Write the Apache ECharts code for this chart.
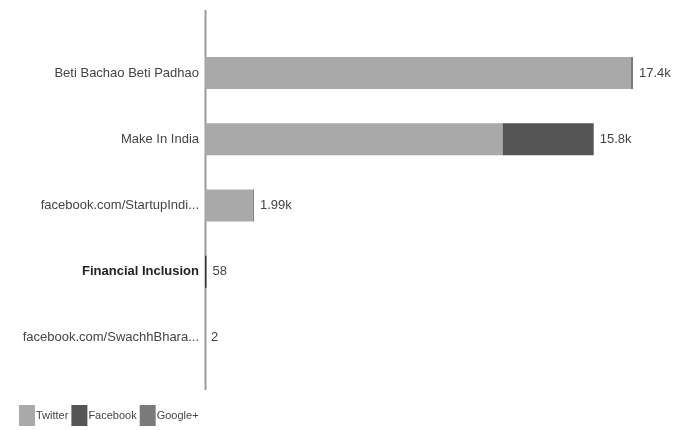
<!DOCTYPE html>
<html>
<head>
<meta charset="utf-8">
<script src="https://cdn.jsdelivr.net/npm/echarts@6/dist/echarts.min.js"></script>
<style>html,body{margin:0;padding:0;background:#fff}#c{width:699px;height:430px}</style>
</head>
<body>
<div id="c"></div>
<script>
var categories = ["Beti Bachao Beti Padhao", "Make In India", "facebook.com/StartupIndi...", "Financial Inclusion", "facebook.com/SwachhBhara..."];
var twitter = [17300, 12100, 1940, 58, 2];
var facebook = [0, 3700, 0, 0, 0];
var googleplus = [100, 0, 50, 0, 0];
var totalLabels = ["17.4k", "15.8k", "1.99k", "58", "2"];

var FONT = '"Liberation Sans Narrow", "Liberation Sans", sans-serif';
var chart = echarts.init(document.getElementById('c'), null, {renderer: 'canvas'});
var cats = categories.slice().reverse();
function rev(a){ return a.slice().reverse(); }
var tw = rev(twitter).map(function(v, i){
  var idx = cats.length - 1 - i;
  if (categories[idx] === "Financial Inclusion") return {value: v, itemStyle: {color: '#333'}};
  return v;
});
var lbls = rev(totalLabels);
chart.setOption({
  animation: false,
  grid: {left: 205, top: 40, width: 492, height: 331, containLabel: false},
  legend: {
    left: 14, bottom: -1, itemWidth: 16, itemHeight: 21, itemGap: 3, icon: 'rect',
    textStyle: {fontFamily: FONT, fontSize: 11, color: '#444', padding: [0,0,0,-4]},
    data: ['Twitter', 'Facebook', 'Google+']
  },
  xAxis: {type: 'value', min: 0, max: 20000, show: false},
  yAxis: {
    type: 'category', data: cats,
    axisLine: {show: false}, axisTick: {show: false},
    axisLabel: {
      fontFamily: FONT, fontSize: 13, color: '#444', margin: 6,
      formatter: function(v){ return v === 'Financial Inclusion' ? '{b|' + v + '}' : v; },
      rich: {b: {fontFamily: FONT, fontSize: 13, fontWeight: 'bold', color: '#222'}}
    }
  },
  graphic: [{type: 'line', shape: {x1: 205.5, y1: 10, x2: 205.5, y2: 390}, style: {stroke: '#999', lineWidth: 2}}],
  series: [
    {name: 'Twitter', type: 'bar', stack: 's', data: tw, barWidth: 32, itemStyle: {color: '#a9a9a9'}},
    {name: 'Facebook', type: 'bar', stack: 's', data: rev(facebook), itemStyle: {color: '#555555'}},
    {name: 'Google+', type: 'bar', stack: 's', data: rev(googleplus), itemStyle: {color: '#7a7a7a'},
     label: {show: true, position: 'right', distance: 6, fontFamily: FONT, fontSize: 13, color: '#444',
       formatter: function(p){ return lbls[p.dataIndex]; }}}
  ]
});
</script>
</body>
</html>
